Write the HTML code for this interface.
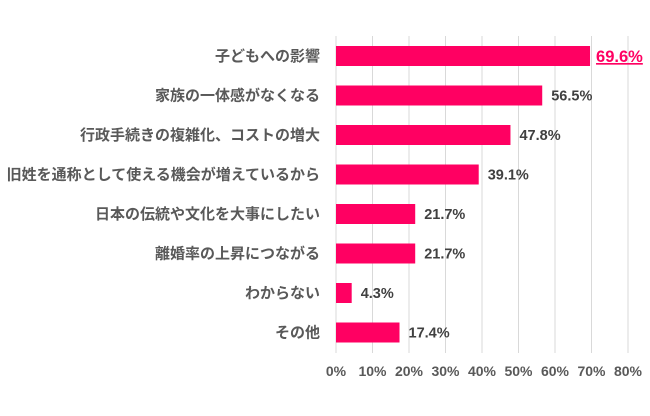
<!DOCTYPE html>
<html><head><meta charset="utf-8"><style>
body{margin:0;background:#fff}
svg text{font-family:"Liberation Sans","Noto Sans CJK JP",sans-serif;font-weight:bold}
</style></head><body>
<svg width="650" height="411">
<g id="grid"></g><g id="bars"></g><g id="labels"></g><g id="ticks"></g>
</svg>
<script>
const categories=["子どもへの影響","家族の一体感がなくなる","行政手続きの複雑化、コストの増大","旧姓を通称として使える機会が増えているから","日本の伝統や文化を大事にしたい","離婚率の上昇につながる","わからない","その他"];
const values=[69.6,56.5,47.8,39.1,21.7,21.7,4.3,17.4];
const tickLabels=["0%","10%","20%","30%","40%","50%","60%","70%","80%"];
const tickValues=[0,10,20,30,40,50,60,70,80];
const NS="http://www.w3.org/2000/svg";
const x=v=>336+v*3.65;
const yc=i=>56+i*39.5;
function mk(t,a,p){const e=document.createElementNS(NS,t);for(const k in a)e.setAttribute(k,a[k]);p.appendChild(e);return e;}
const grid=document.getElementById('grid'),bars=document.getElementById('bars'),labels=document.getElementById('labels'),ticks=document.getElementById('ticks');
tickValues.forEach((v,i)=>{
 const l=mk('line',{x1:x(v),x2:x(v),y1:36,y2:353,stroke:'#d9d9d9','stroke-width':1},grid);
 
 
 const t=mk('text',{x:x(v),y:376,'text-anchor':'middle','font-size':14,fill:'#595959'},ticks);
 t.textContent=tickLabels[i];
 
 
});
categories.forEach((c,i)=>{
 const r=mk('rect',{x:x(0),y:yc(i)-10,width:x(values[i])-x(0),height:20,fill:'#ff0062'},bars);
 
 
 const t=mk('text',{x:320,y:yc(i)+5,'text-anchor':'end','font-size':15,fill:'#595959'},labels);
 t.textContent=c;
 
 
 const first=i===0;
 const v=mk('text',{x:x(values[i])+(first?6:9),y:yc(i)+(first?6:5),'font-size':first?16.5:14.5,fill:first?'#ff0062':'#404040','text-decoration':first?'underline':'none'},labels);
 v.textContent=values[i].toFixed(1)+'%';
 
 
});
</script>
</body></html>
